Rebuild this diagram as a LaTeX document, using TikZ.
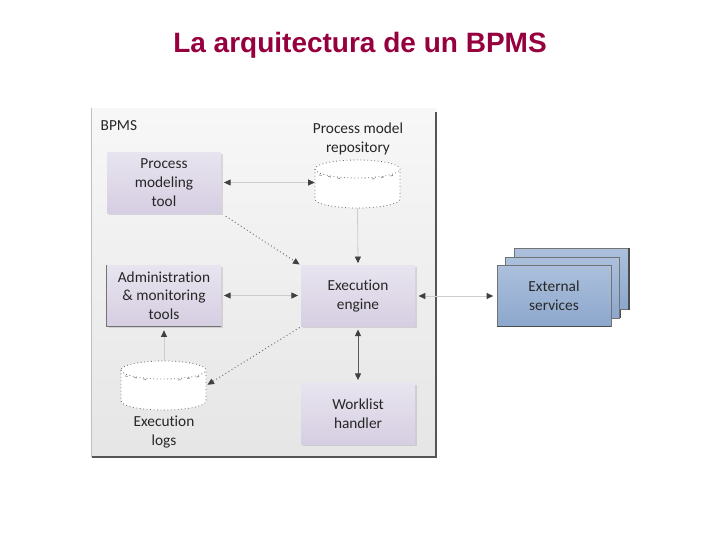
\documentclass[tikz,border=0pt]{standalone}
\usepackage{fontspec}
\setmainfont{Carlito}[Ligatures=NoCommon]
\newfontfamily\titlefont{Liberation Sans}
\usetikzlibrary{arrows.meta,shadows}
\definecolor{titlered}{RGB}{150,0,62}
\definecolor{txt}{RGB}{38,38,38}
\definecolor{boxtop}{RGB}{232,228,239}
\definecolor{boxbot}{RGB}{214,206,226}
\definecolor{exttop}{RGB}{172,192,220}
\definecolor{extbot}{RGB}{140,167,205}
\definecolor{linkgray}{RGB}{205,205,205}
\definecolor{tipgray}{RGB}{64,64,64}
\definecolor{framedark}{RGB}{85,85,85}
\tikzset{tp/.tip={Triangle[length=5pt,width=4.5pt,color=tipgray]}}
\begin{document}
\begin{tikzpicture}[x=0.75pt,y=-0.75pt,
  lab/.style={align=center,font=\fontsize{11.5}{14}\selectfont,text=txt},
  box/.style={lab,minimum width=85.5pt,minimum height=45.75pt,inner sep=0pt,
    top color=boxtop,bottom color=boxbot,
    drop shadow={shadow xshift=1.2pt,shadow yshift=-1.2pt,opacity=0.25}},
  extbox/.style={lab,minimum width=85.5pt,minimum height=45.75pt,inner sep=0pt,
    top color=exttop,bottom color=extbot,draw=black!55,line width=0.6pt},
  store/.style={minimum width=63.75pt,minimum height=36pt,inner sep=0pt},
  link/.style={draw=linkgray,line width=0.6pt},
  dotlink/.style={draw=black!60,line width=0.7pt,dotted},
  cyl/.style={fill=white,draw=black!60,line width=0.6pt,dotted},
  tex/.style={black!45,line width=0.6pt,dash pattern=on 2pt off 5pt}
]
\useasboundingbox (0,0) rectangle (720,540);
\fill[white] (0,0) rectangle (720,540);

% title
\node[anchor=base,font=\titlefont\bfseries\fontsize{21}{25}\selectfont,text=titlered] (title) at (360,52) {La arquitectura de un BPMS};

% frame
\node[draw=none,minimum width=258pt,minimum height=261.75pt,inner sep=0pt,
  top color=white!97!black,bottom color=white!90!black] (frame) at (264,282.5) {};
\draw[black!25,line width=0.6pt] (frame.north west) -- (frame.south west);
\draw[framedark,line width=1.8pt] ([yshift=-3pt]frame.north east) -- (frame.south east) -- (frame.south west);
\node[lab,anchor=base west] (bpmslbl) at (96,130) {BPMS};

% boxes
\node[box] (mod) at (164,182.5) {Process\\modeling\\tool};
\node[box] (adm) at (164,295.5) {Administration\\\& monitoring\\tools};
\draw[black!55,line width=0.8pt] (adm.north west) -- (adm.south west) -- (adm.south east);
\node[box] (eng) at (358,296) {Execution\\engine};
\node[box] (wl) at (358,413.5) {Worklist\\handler};

% external services stack
\node[extbox] (ext3) at (571,279) {};
\node[extbox] (ext2) at (562.5,287.5) {};
\node[extbox] (ext) at (554,295.5) {External\\services};
\draw[black!70,line width=1pt] ([xshift=0.5pt]ext3.north east) -- ([xshift=0.5pt]ext3.south east);
\draw[black!70,line width=1pt] ([xshift=0.5pt]ext2.north east |- ext3.south east) -- ([xshift=0.5pt]ext2.south east);
\draw[black!70,line width=1pt] (ext.south west) -- (ext.south east);

% repository cylinder
\node[store] (repo) at (357.5,184) {};
\path[cyl] (315,169) -- (315,199) arc[start angle=180,end angle=0,x radius=42.5,y radius=9]
  -- (400,169) arc[start angle=0,end angle=-180,x radius=42.5,y radius=9] -- cycle;
\draw[black!60,line width=0.6pt,dotted] (315,169) arc[start angle=180,end angle=0,x radius=42.5,y radius=9];
\draw[tex] (319,175) -- (343,179);
\draw[tex] (372,179) -- (396,175);
\node[lab] (repolbl) at (358,139) {Process model\\repository};

% logs cylinder
\node[store] (logs) at (163.5,385.5) {};
\path[cyl] (121,370) -- (121,401) arc[start angle=180,end angle=0,x radius=42.5,y radius=9]
  -- (206,370) arc[start angle=0,end angle=-180,x radius=42.5,y radius=9] -- cycle;
\draw[black!60,line width=0.6pt,dotted] (121,370) arc[start angle=180,end angle=0,x radius=42.5,y radius=9];
\draw[tex] (125,376) -- (149,380);
\draw[tex] (178,380) -- (202,376);
\node[lab] (logslbl) at (164,432) {Execution\\logs};

% connectors
\draw[link,tp-tp,shorten <=2pt] (mod.east) -- (mod.east -| repo.west);
\draw[dotlink,-tp,shorten <=4pt,shorten >=1pt] (mod.south east) -- (eng.north west);
\draw[link,-tp,shorten >=1.5pt] (repo.south) -- (eng.north);
\draw[link,tp-tp,shorten <=2pt,shorten >=2pt] (adm.east) -- (adm.east -| eng.west);
\draw[link,tp-tp,shorten <=2.5pt,shorten >=2.5pt] (eng.east) -- (eng.east -| ext.west);
\draw[link,-tp,shorten >=3pt] (logs.north -| adm.south) -- (adm.south);
\draw[dotlink,-tp,shorten <=1pt,shorten >=1pt] (eng.south west) -- (logs.east);
\draw[black!65,line width=0.7pt,tp-tp,shorten <=2pt,shorten >=2pt] (eng.south) -- (wl.north);
\end{tikzpicture}
\end{document}
